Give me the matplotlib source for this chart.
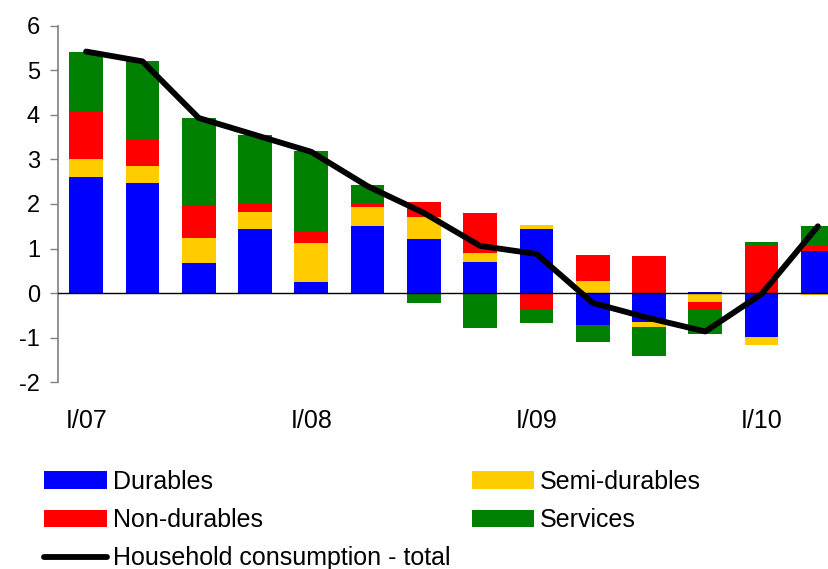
import numpy as np
import matplotlib
matplotlib.use("Agg")
import matplotlib.pyplot as plt

# --- data ---
quarters = ["I/07", "II/07", "III/07", "IV/07", "I/08", "II/08", "III/08", "IV/08",
            "I/09", "II/09", "III/09", "IV/09", "I/10", "II/10"]
durables = [2.61, 2.46, 0.68, 1.44, 0.25, 1.51, 1.22, 0.70, 1.44, -0.71, -0.64, 0.03, -0.98, 0.95]
semi_durables = [0.40, 0.40, 0.56, 0.38, 0.88, 0.43, 0.49, 0.20, 0.09, 0.28, -0.13, -0.19, -0.18, -0.04]
non_durables = [1.08, 0.60, 0.73, 0.20, 0.25, 0.09, 0.34, 0.90, -0.36, 0.58, 0.84, -0.17, 1.08, 0.13]
services = [1.32, 1.75, 1.96, 1.52, 1.81, 0.40, -0.23, -0.78, -0.31, -0.38, -0.63, -0.55, 0.07, 0.43]
total = [5.42, 5.20, 3.93, 3.55, 3.17, 2.40, 1.80, 1.06, 0.88, -0.22, -0.56, -0.86, -0.02, 1.50]
tick_labels = {0: "I/07", 4: "I/08", 8: "I/09", 12: "I/10"}

components = [
    ("Durables", durables, "#0000FF"),
    ("Semi-durables", semi_durables, "#FFCC00"),
    ("Non-durables", non_durables, "#FF0000"),
    ("Services", services, "#008000"),
]

plt.rcParams["font.family"] = ["Liberation Sans", "DejaVu Sans"]
plt.rcParams["axes.unicode_minus"] = False
fs = 18

W, H = 829, 569
fig = plt.figure(figsize=(W / 100, H / 100), dpi=100)
ax = fig.add_axes([58 / W, 1 - 382.3 / H, (846 - 58) / W, (382.3 - 25.7) / H])

x = np.arange(len(quarters))
pos_base = np.zeros(len(x))
neg_base = np.zeros(len(x))
handles = {}
for name, vals, col in components:
    v = np.array(vals)
    bottom = np.where(v >= 0, pos_base, neg_base)
    b = ax.bar(x, v, width=0.6, bottom=bottom, color=col, linewidth=0)
    handles[name] = b
    pos_base += np.where(v >= 0, v, 0)
    neg_base += np.where(v < 0, v, 0)

ax.axhline(0, color="black", linewidth=1, zorder=3)
line, = ax.plot(x, total, color="black", linewidth=4.2, zorder=4,
                solid_capstyle="round")

ax.set_xlim(-0.5, 13.5)
ax.set_ylim(-2, 6)
ax.set_yticks(range(-2, 7))
ax.set_xticks(list(tick_labels.keys()))
ax.set_xticklabels(list(tick_labels.values()))
ax.tick_params(axis="x", length=0, pad=19, labelsize=fs)
ax.tick_params(axis="y", length=6, width=1, color="#808080", pad=7, labelsize=17)

for s in ["top", "right", "bottom"]:
    ax.spines[s].set_visible(False)
ax.spines["left"].set_color("#808080")
ax.spines["left"].set_linewidth(1.2)

order = [handles["Durables"], handles["Non-durables"], line,
         handles["Semi-durables"], handles["Services"]]
labels = ["Durables", "Non-durables", "Household consumption - total",
          "Semi-durables", "Services"]
fig.legend(order, labels, loc="upper left", bbox_to_anchor=(44 / W, 1 - 470 / H),
           ncol=2, frameon=False, fontsize=fs, handlelength=2.5, handleheight=0.72,
           handletextpad=0.25, labelspacing=0.57, columnspacing=0.85, borderpad=0,
           borderaxespad=0)

fig.savefig("out.png", dpi=100)
